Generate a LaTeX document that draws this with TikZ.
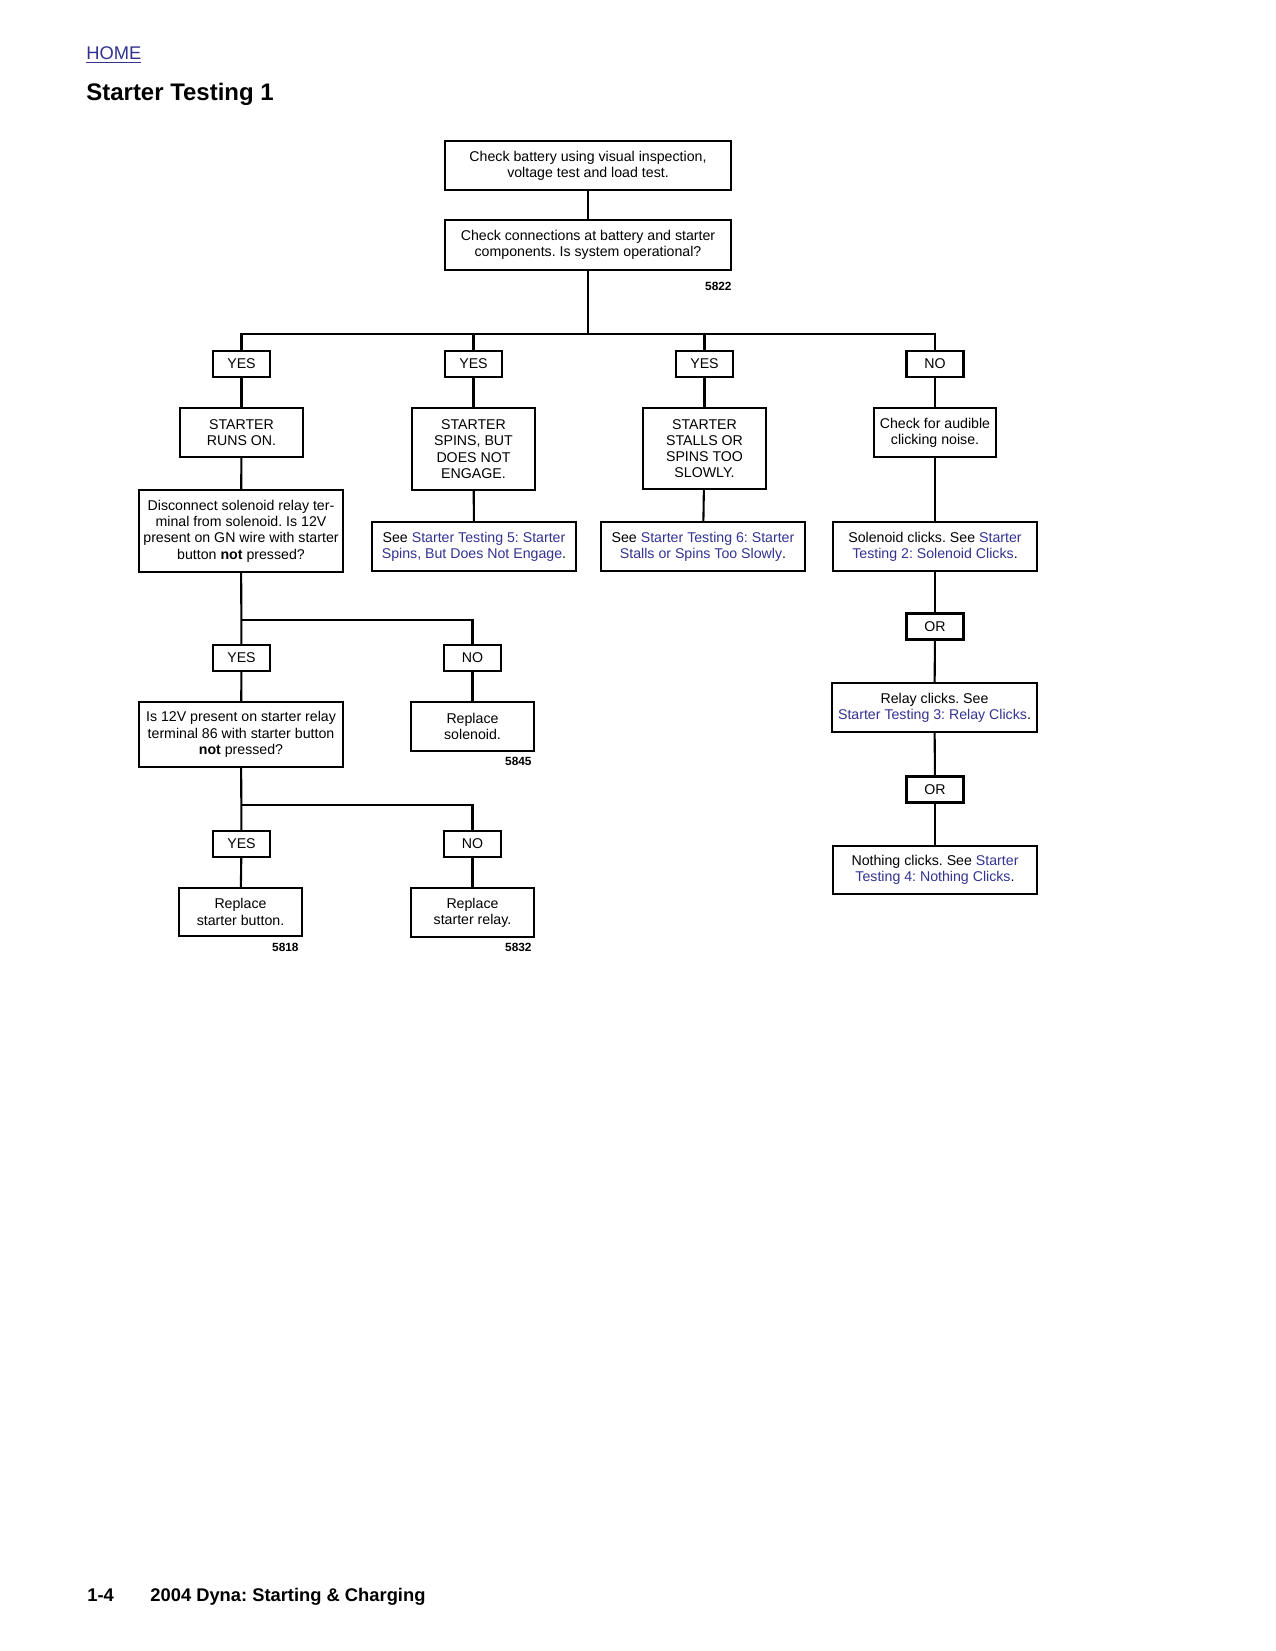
\documentclass[tikz,border=0pt]{standalone}
\usepackage{fontspec}
\setmainfont{Liberation Sans}
\usepackage{xcolor}
\usepackage{tikz}
\usetikzlibrary{positioning}
\definecolor{linkblue}{RGB}{50,50,145}
\newcommand{\lnk}[1]{\textcolor{linkblue}{#1}}
\frenchspacing

\begin{document}
\begin{tikzpicture}[
    x=0.48pt, y=-0.48pt,
    sz/.style 2 args={minimum width=#1*0.48pt, minimum height=#2*0.48pt},
    box/.style={rectangle, draw, line width=1.1pt, inner sep=0pt, align=center, font=\fontsize{6.8}{7.8}\selectfont},
    tag/.style={box, sz={57}{26}},
    figno/.style={anchor=east, inner sep=0pt, font=\fontsize{5.7}{6}\selectfont\bfseries},
    link/.style={line width=1pt}
]
\useasboundingbox (0,0) rectangle (1275,1651);

% Header
\node[anchor=west, inner sep=0pt, text=linkblue, font=\fontsize{8.8}{10}\selectfont] (home) at (86,55.5) {\underline{HOME}};
\node[anchor=west, inner sep=0pt, font=\fontsize{11.5}{13}\selectfont\bfseries] (title) at (86,94) {Starter Testing 1};

% Battery and connections
\node[box, sz={286}{49}] (chk1) at (588,165.5) {Check battery using visual inspection,\\voltage test and load test.};
\node[box, sz={286}{50}] (chk2) at (588,245) {Check connections at battery and starter\\components. Is system operational?};
\node[figno] (f5822) at (732,286) {5822};
\coordinate (bar1) at (588,334);

% Answers
\node[tag] (y1) at (241.5,364) {YES};
\node[tag] (y2) at (473.5,364) {YES};
\node[tag] (y3) at (704.5,364) {YES};
\node[tag] (n4) at (935,364) {NO};

% Symptoms
\node[box, sz={123}{49}] (runs) at (241.5,432.5) {STARTER\\RUNS ON.};
\node[box, sz={123}{82}] (spins) at (473.5,449) {STARTER\\SPINS, BUT\\DOES NOT\\ENGAGE.};
\node[box, sz={123}{81}] (stalls) at (704.5,448.5) {STARTER\\STALLS OR\\SPINS TOO\\SLOWLY.};
\node[box, sz={122}{49}] (audible) at (935,432.5) {Check for audible\\clicking noise.};

% Next steps
\node[box, sz={204}{82}] (disc) at (241,531) {Disconnect solenoid relay ter-\\minal from solenoid. Is 12V\\present on GN wire with starter\\button {\bfseries not} pressed?};
\node[box, sz={204}{49}] (see5) at (474,546.5) {See \lnk{Starter Testing 5: Starter}\\\lnk{Spins, But Does Not Engage}.};
\node[box, sz={204}{49}] (see6) at (703,546.5) {See \lnk{Starter Testing 6: Starter}\\\lnk{Stalls or Spins Too Slowly}.};
\node[box, sz={204}{49}] (sol) at (935,546.5) {Solenoid clicks. See \lnk{Starter}\\\lnk{Testing 2: Solenoid Clicks}.};

% Clicking column
\node[tag] (or1) at (935,626.5) {OR};
\node[box, sz={205}{49}] (relay) at (934.5,707.5) {Relay clicks. See\\\lnk{Starter Testing 3: Relay Clicks}.};
\node[tag] (or2) at (935,789.5) {OR};
\node[box, sz={204}{48}] (nothing) at (935,870) {Nothing clicks. See \lnk{Starter}\\\lnk{Testing 4: Nothing Clicks}.};

% Solenoid relay branch
\coordinate (bar2) at (241.5,620);
\node[tag] (y5) at (241.5,658) {YES};
\node[tag] (n5) at (472.5,658) {NO};
\node[box, sz={204}{65}] (q12) at (241,734.5) {Is 12V present on starter relay\\terminal 86 with starter button\\{\bfseries not} pressed?};
\node[box, sz={123}{49}] (repsol) at (472.5,726.5) {Replace\\solenoid.};
\node[figno] (f5845) at (532,761) {5845};

% Starter relay branch
\coordinate (bar3) at (241.5,805);
\node[tag] (y6) at (241.5,844) {YES};
\node[tag] (n6) at (472.5,844) {NO};
\node[box, sz={123}{48}] (repbtn) at (240.5,912) {Replace\\starter button.};
\node[box, sz={123}{49}] (reprel) at (472.5,912.5) {Replace\\starter relay.};
\node[figno] (f5818) at (299,947) {5818};
\node[figno] (f5832) at (532,947) {5832};

% Connectors
\draw[link] (chk1) -- (chk2);
\draw[link] (chk2) -- (bar1);
\draw[link] (y1) |- (bar1) -| (n4);
\draw[link] (y2) -- (y2 |- bar1);
\draw[link] (y3) -- (y3 |- bar1);
\draw[link] (y1) -- (runs);
\draw[link] (runs) -- (disc);
\draw[link] (y2) -- (spins);
\draw[link] (spins) -- (see5);
\draw[link] (y3) -- (stalls);
\draw[link] (stalls) -- (see6);
\draw[link] (n4) -- (audible);
\draw[link] (audible) -- (sol);
\draw[link] (sol) -- (or1);
\draw[link] (or1) -- (relay);
\draw[link] (relay) -- (or2);
\draw[link] (or2) -- (nothing);
\draw[link] (disc) -- (y5);
\draw[link] (n5) |- (bar2);
\draw[link] (y5) -- (q12);
\draw[link] (n5) -- (repsol);
\draw[link] (q12) -- (y6);
\draw[link] (n6) |- (bar3);
\draw[link] (y6) -- (repbtn);
\draw[link] (n6) -- (reprel);

% Footer
\node[anchor=base west, inner sep=0pt, font=\fontsize{8.8}{10}\selectfont\bfseries] (page) at (87,1601) {1-4};
\node[anchor=base west, inner sep=0pt, font=\fontsize{8.8}{10}\selectfont\bfseries] (book) at (150,1601) {2004 Dyna: Starting \& Charging};

\end{tikzpicture}
\end{document}
